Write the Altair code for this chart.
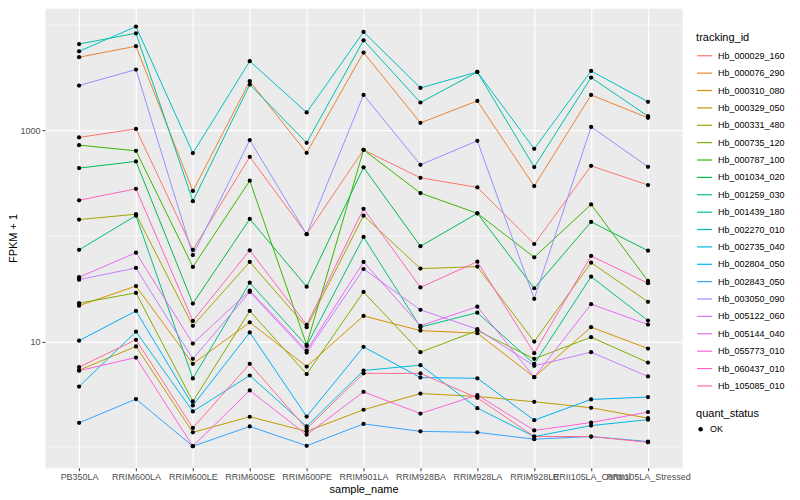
import altair as alt
import pandas as pd

samples = ["PB350LA", "RRIM600LA", "RRIM600LE", "RRIM600SE", "RRIM600PE", "RRIM901LA",
           "RRIM928BA", "RRIM928LA", "RRIM928LE", "RRII105LA_Control", "RRII105LA_Stressed"]

tracking_ids = ["Hb_000029_160", "Hb_000076_290", "Hb_000310_080", "Hb_000329_050", "Hb_000331_480",
                "Hb_000735_120", "Hb_000787_100", "Hb_001034_020", "Hb_001259_030", "Hb_001439_180",
                "Hb_002270_010", "Hb_002735_040", "Hb_002804_050", "Hb_002843_050", "Hb_003050_090",
                "Hb_005122_060", "Hb_005144_040", "Hb_055773_010", "Hb_060437_010", "Hb_105085_010"]

colors = ["#F8766D", "#EA8331", "#D89000", "#C09B00", "#A3A500", "#7CAE00", "#39B600", "#00BB4E",
          "#00BF7D", "#00C1A3", "#00BFC4", "#00BAE0", "#00B0F6", "#35A2FF", "#9590FF", "#C77CFF",
          "#E76BF3", "#FA62DB", "#FF62BC", "#FF6C91"]

# FPKM + 1, in sample order
Hb_000029_160 = [859, 1035, 74, 562, 104, 655, 356, 289, 84, 462, 304]
Hb_000076_290 = [4940, 6280, 267, 2930, 614, 5470, 1180, 1905, 297, 2170, 1316]
Hb_000310_080 = [21.9, 33.6, 6.15, 15.2, 5.8, 17.5, 12.7, 12.0, 4.6, 13.7, 8.59]
Hb_000329_050 = [5.36, 9.0, 1.38, 1.94, 1.41, 2.26, 3.22, 3.02, 2.69, 2.36, 1.88]
Hb_000331_480 = [143, 161, 14.1, 56.8, 13.7, 156, 49.1, 51.3, 10.0, 55.9, 23.8]
Hb_000735_120 = [23.1, 28.9, 2.71, 19.5, 4.92, 29.5, 7.94, 12.7, 6.86, 11.0, 6.33]
Hb_000787_100 = [726, 641, 51, 334, 9.3, 655, 255, 164, 62.9, 199, 37.5]
Hb_001034_020 = [440, 509, 22.9, 145, 33.1, 447, 80, 164, 32, 136, 72.6]
Hb_001259_030 = [74, 156, 4.47, 36.1, 9.1, 97.9, 13.7, 18.8, 6.15, 41.2, 15.8]
Hb_001439_180 = [6590, 8330, 214, 2720, 764, 7150, 1840, 3580, 450, 3170, 1365]
Hb_002270_010 = [5620, 9640, 610, 4530, 1480, 8570, 2530, 3580, 670, 3660, 1870]
Hb_002735_040 = [3.75, 12.4, 2.18, 4.77, 1.57, 5.32, 5.98, 2.34, 1.26, 1.60, 1.82]
Hb_002804_050 = [10.2, 19.5, 2.48, 12.2, 1.95, 8.91, 4.56, 4.49, 1.80, 2.83, 2.98]
Hb_002843_050 = [1.70, 2.85, 1.02, 1.57, 1.03, 1.66, 1.41, 1.38, 1.19, 1.26, 1.13]
Hb_003050_090 = [2665, 3776, 66, 810, 104, 2170, 473, 797, 25.4, 1081, 453]
Hb_005122_060 = [38.6, 49.8, 6.86, 29.5, 7.87, 48.7, 20.0, 13.1, 5.89, 7.94, 4.67]
Hb_005144_040 = [40.7, 69.5, 9.57, 30.4, 8.22, 56.8, 14.1, 21.4, 4.6, 22.6, 14.5]
Hb_055773_010 = [5.3, 7.06, 1.02, 3.44, 1.31, 3.34, 2.08, 3.11, 1.44, 1.71, 2.15]
Hb_060437_010 = [218, 280, 15.7, 73.2, 14.4, 181, 32.6, 57.1, 7.77, 64.7, 35.7]
Hb_105085_010 = [5.73, 10.4, 1.52, 6.15, 1.49, 5.0, 4.99, 2.93, 1.26, 1.26, 1.11]

series = [Hb_000029_160, Hb_000076_290, Hb_000310_080, Hb_000329_050, Hb_000331_480,
          Hb_000735_120, Hb_000787_100, Hb_001034_020, Hb_001259_030, Hb_001439_180,
          Hb_002270_010, Hb_002735_040, Hb_002804_050, Hb_002843_050, Hb_003050_090,
          Hb_005122_060, Hb_005144_040, Hb_055773_010, Hb_060437_010, Hb_105085_010]

minor_breaks = [1, 100, 10000]
major_breaks = [10, 1000]

rows = []
for tid, vals in zip(tracking_ids, series):
    for i, (s, v) in enumerate(zip(samples, vals)):
        rows.append({"sample_name": s, "idx": i, "tracking_id": tid, "value": v, "quant_status": "OK"})
df = pd.DataFrame(rows)
grid_df = pd.DataFrame({"value": minor_breaks})

FONT = "Liberation Sans"

xenc = alt.X("sample_name:N", sort=samples,
             scale=alt.Scale(type="point", padding=0.6),
             axis=alt.Axis(title="sample_name", labelAngle=0, labelOverlap=False))
yscale = alt.Scale(type="log", domain=[0.638, 14360], nice=False, zero=False)
yenc = alt.Y("value:Q", scale=yscale,
             axis=alt.Axis(title="FPKM + 1", values=major_breaks, format=".0f"))

grid = alt.Chart(grid_df).mark_rule(color="white", strokeWidth=0.6).encode(
    y=alt.Y("value:Q", scale=yscale)
)

lines = alt.Chart(df).mark_line(strokeWidth=1).encode(
    x=xenc, y=yenc,
    color=alt.Color("tracking_id:N", scale=alt.Scale(domain=tracking_ids, range=colors),
                    legend=alt.Legend(title="tracking_id", orient="none", legendX=652, legendY=24,
                                      symbolType="stroke", symbolStrokeWidth=1.2, symbolSize=225,
                                      rowPadding=3.4, labelFontSize=9, titleFontSize=11,
                                      labelOffset=5, titlePadding=4)),
    detail="tracking_id:N",
    order=alt.Order("idx:Q"),
)

points = alt.Chart(df).mark_point(filled=True, size=18, opacity=1).encode(
    x=xenc, y=yenc,
    shape=alt.Shape("quant_status:N", scale=alt.Scale(domain=["OK"], range=["circle"]),
                    legend=alt.Legend(title="quant_status", orient="none", legendX=652, legendY=400,
                                      symbolSize=20, symbolFillColor="black", symbolStrokeColor="black",
                                      labelFontSize=9, titleFontSize=11, labelOffset=5, titlePadding=6)),
    color=alt.value("black"),
)

chart = alt.layer(grid, lines, points).properties(
    width=638, height=460,
    autosize=alt.AutoSizeParams(type="none"),
    padding={"left": 37, "top": 0, "right": 110, "bottom": 31},
).configure(font=FONT).configure_view(
    fill="#EBEBEB", strokeOpacity=0
).configure_axis(
    grid=True, gridColor="white", gridWidth=1.2, domain=False,
    tickColor="#333333", tickSize=3, labelColor="#4D4D4D", labelFontSize=9, labelFont=FONT,
    titleFont=FONT, titleFontSize=11, titleFontWeight="normal", titleColor="black", labelPadding=2,
).configure_axisY(titlePadding=1).configure_axisX(titlePadding=2).configure_legend(
    titleFont=FONT, labelFont=FONT, titleFontWeight="normal", titleColor="black", labelColor="black"
)

chart.save("out.html", embed_options={"renderer": "svg", "actions": False})
